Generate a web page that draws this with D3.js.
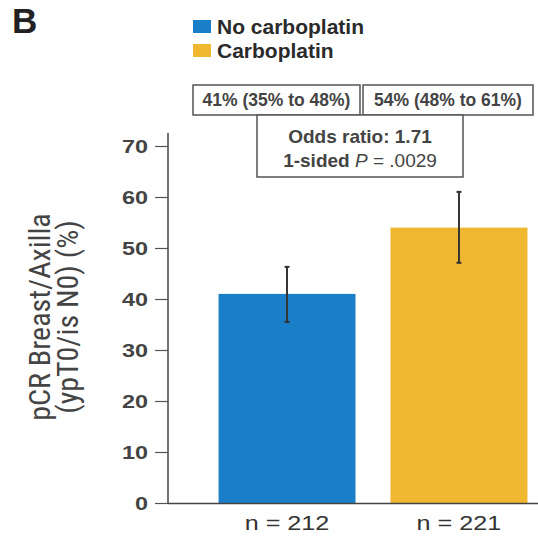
<!DOCTYPE html>
<html><head><meta charset="utf-8">
<script src="https://cdn.jsdelivr.net/npm/d3@7"></script>
<style>body{margin:0;background:#fff}svg{display:block}</style>
</head><body>
<script>
const categories = ["No carboplatin", "Carboplatin"];
const nLabels = ["n = 212", "n = 221"];
const values = [41, 54];
const ciLow = [35.5, 47.1];
const ciHigh = [46.3, 61.0];
const boxLabels = ["41% (35% to 48%)", "54% (48% to 61%)"];
const statLines = ["Odds ratio: 1.71", "1-sided "];
const yTicks = [0, 10, 20, 30, 40, 50, 60, 70];
const colors = ["#1a7fc8", "#f0b731"];

const W = 538, H = 536;
const svg = d3.select("body").append("svg").attr("width", W).attr("height", H);
const txt = "#3a3a3a";
const FONT = "Liberation Sans, Arial, sans-serif";

const y = d3.scaleLinear().domain([0, 70]).range([503, 146]);
const x = d3.scaleBand().domain(categories).range([168, 578]).paddingInner(0.2035).paddingOuter(0.294);

// Panel letter
svg.append("text").attr("x", 12).attr("y", 33).attr("font-family", FONT)
  .attr("font-weight", "bold").attr("font-size", 35).attr("fill", "#222").text("B");

// Legend
categories.forEach((c, i) => {
  svg.append("rect").attr("x", 193).attr("y", 20 + i * 24).attr("width", 18).attr("height", 13).attr("fill", colors[i]);
  svg.append("text").attr("x", 217).attr("y", 34 + i * 24).attr("font-family", FONT)
    .attr("font-size", 21).attr("font-weight", "bold").attr("fill", "#2a2a2a").text(c);
});

// Bars
svg.selectAll(".bar").data(values).enter().append("rect")
  .attr("x", (d, i) => x(categories[i])).attr("y", d => y(d))
  .attr("width", x.bandwidth()).attr("height", d => y(0) - y(d))
  .attr("fill", (d, i) => colors[i]);

// Error bars
values.forEach((d, i) => {
  const cx = x(categories[i]) + x.bandwidth() / 2;
  const g = svg.append("g").attr("stroke", "#333").attr("stroke-width", 2);
  g.append("line").attr("x1", cx).attr("x2", cx).attr("y1", y(ciLow[i])).attr("y2", y(ciHigh[i]));
  g.append("line").attr("x1", cx - 2.5).attr("x2", cx + 2.5).attr("y1", y(ciLow[i])).attr("y2", y(ciLow[i]));
  g.append("line").attr("x1", cx - 2.5).attr("x2", cx + 2.5).attr("y1", y(ciHigh[i])).attr("y2", y(ciHigh[i]));
});

// Y axis
const sx = 1.3;
const yAxis = svg.append("g").attr("transform", "translate(168,0)")
  .call(d3.axisLeft(y).tickValues(yTicks).tickSize(13).tickPadding(7).tickSizeOuter(0));
yAxis.select(".domain").attr("stroke", "#444").attr("stroke-width", 1.5).attr("d", "M0,133V503");
yAxis.selectAll(".tick line").attr("stroke", "#555").attr("stroke-width", 1.2);
yAxis.selectAll(".tick text").attr("font-family", FONT).attr("font-size", 18)
  .attr("fill", "#444").attr("font-weight", "bold").attr("dy", "0.35em")
  .attr("x", -20 / sx).attr("transform", `scale(${sx},1)`);

// X axis baseline
svg.append("line").attr("x1", 168).attr("x2", 538).attr("y1", 503.5).attr("y2", 503.5)
  .attr("stroke", "#444").attr("stroke-width", 1.5);

// n labels
const nsx = 1.2;
nLabels.forEach((t, i) => {
  const cx = x(categories[i]) + x.bandwidth() / 2;
  svg.append("text").attr("x", cx / nsx).attr("y", 530)
    .attr("transform", `scale(${nsx},1)`)
    .attr("text-anchor", "middle").attr("font-family", FONT).attr("font-size", 21)
    .attr("fill", "#333").text(t);
});

// Y title
const yt = svg.append("text").attr("transform", "translate(0,317) rotate(-90)")
  .attr("text-anchor", "middle").attr("font-family", "Liberation Sans Narrow, Roboto Condensed, Arial Narrow, sans-serif")
  .attr("font-size", 30).attr("fill", "#444");
yt.append("tspan").attr("x", 0).attr("y", 50).text("pCR Breast/Axilla");
yt.append("tspan").attr("x", 0).attr("y", 78).text("(ypT0/is N0) (%)");

// Annotation boxes
const boxes = [[193, 85, 167, 30], [363, 85, 170, 30]];
boxes.forEach((b, i) => {
  svg.append("rect").attr("x", b[0]).attr("y", b[1]).attr("width", b[2]).attr("height", b[3])
    .attr("fill", "#fff").attr("stroke", "#555").attr("stroke-width", 1.5);
  svg.append("text").attr("x", b[0] + b[2] / 2).attr("y", b[1] + 21).attr("text-anchor", "middle")
    .attr("font-family", FONT).attr("font-size", 17.5).attr("font-weight", "bold").attr("fill", "#444").text(boxLabels[i]);
});
svg.append("rect").attr("x", 257).attr("y", 115).attr("width", 206).attr("height", 62)
  .attr("fill", "#fff").attr("stroke", "#555").attr("stroke-width", 1.5);
svg.append("text").attr("x", 360).attr("y", 143).attr("text-anchor", "middle")
  .attr("font-family", FONT).attr("font-size", 19).attr("font-weight", "bold").attr("fill", "#444").text(statLines[0]);
const t2 = svg.append("text").attr("x", 360).attr("y", 167).attr("text-anchor", "middle")
  .attr("font-family", FONT).attr("font-size", 19).attr("font-weight", "bold").attr("fill", "#444");
t2.append("tspan").text(statLines[1]);
t2.append("tspan").attr("font-style", "italic").attr("font-weight", "normal").text("P");
t2.append("tspan").attr("font-weight", "normal").text(" = .0029");
</script>
</body></html>
